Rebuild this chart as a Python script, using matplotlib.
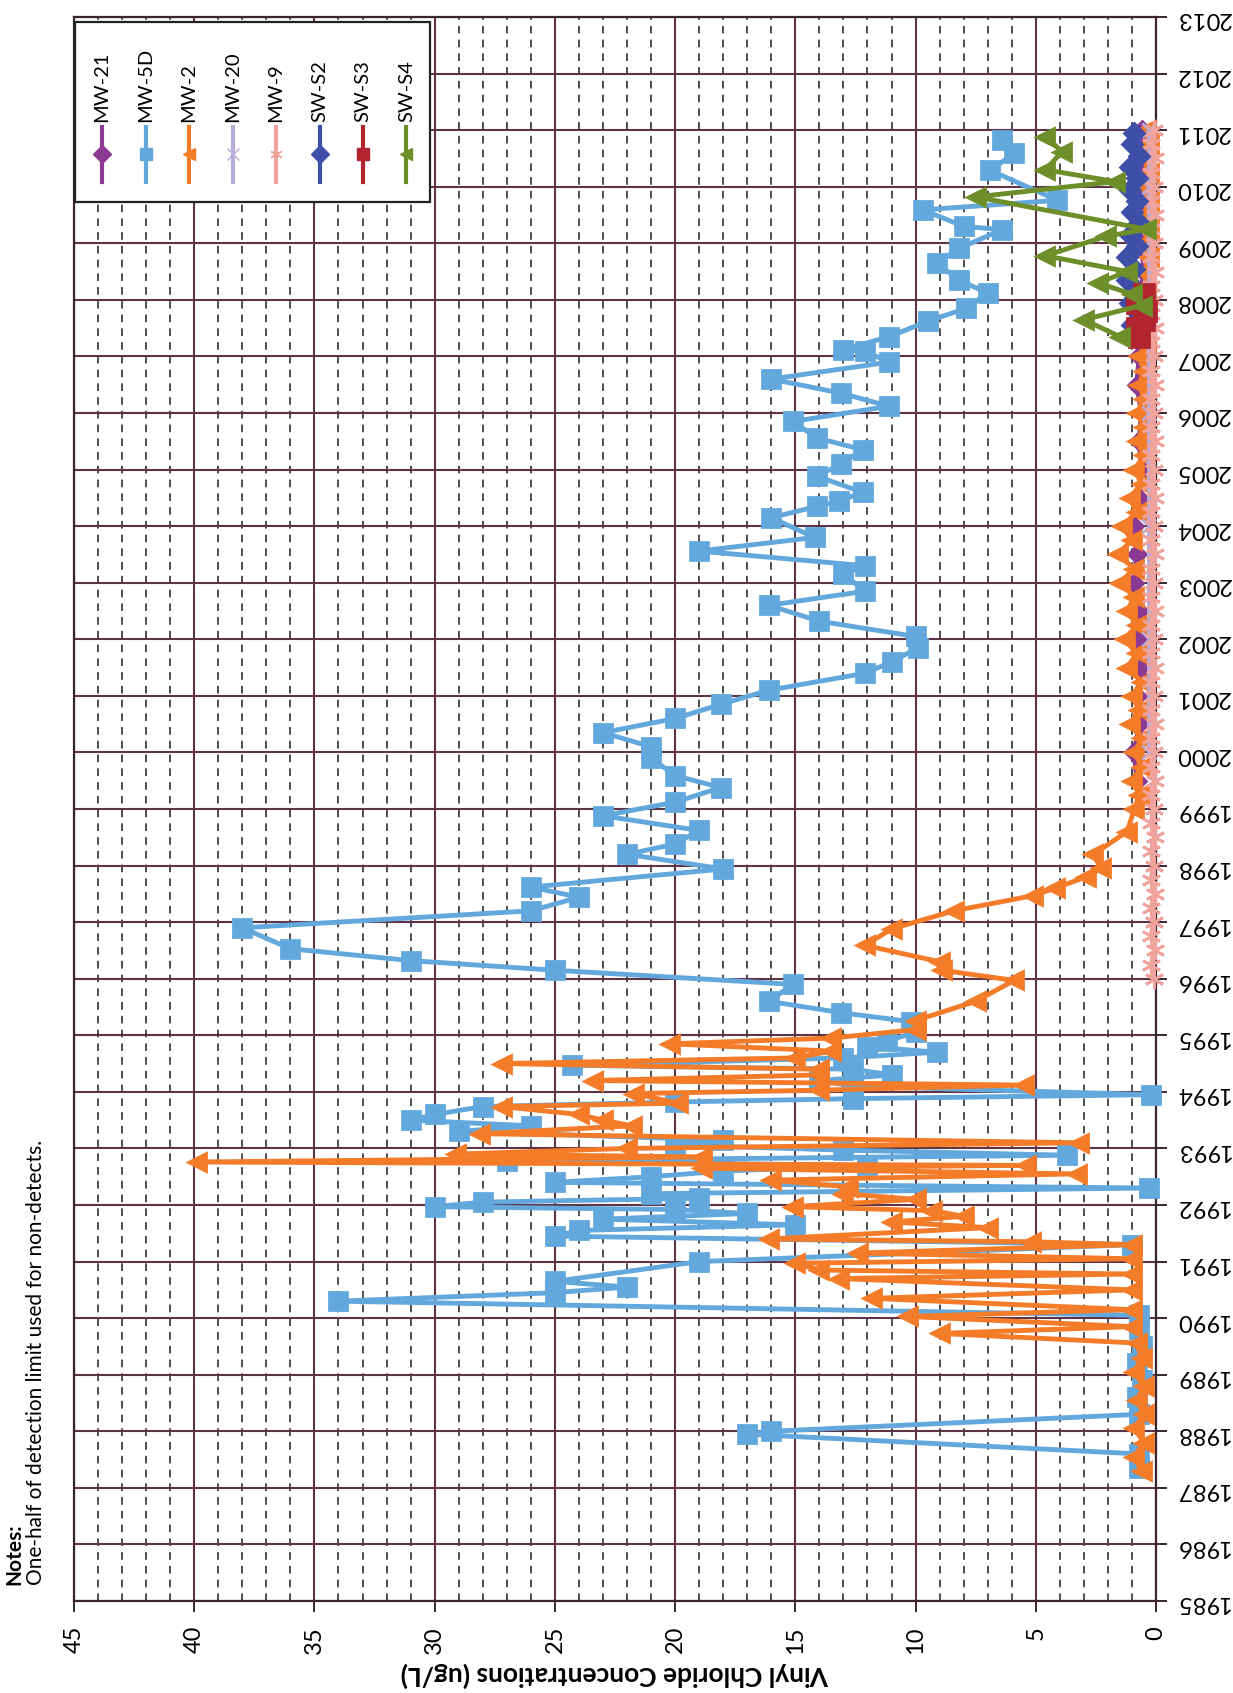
import matplotlib
matplotlib.use("Agg")
import matplotlib.pyplot as plt
from matplotlib.ticker import MultipleLocator, FixedLocator
from matplotlib.patches import Rectangle

plt.rcParams['font.family'] = ['Lato', 'DejaVu Sans']

# ---- data: (decimal year, vinyl chloride ug/L) ----
mw21 = [(1999.5, 0.8), (2000.0, 0.9), (2000.5, 0.7), (2001.0, 0.8), (2001.5, 0.6),
        (2002.0, 0.8), (2002.5, 0.7), (2003.0, 0.9), (2003.5, 0.8), (2004.0, 0.9),
        (2004.5, 0.7), (2005.0, 0.6), (2005.5, 0.7), (2006.0, 0.6), (2006.5, 0.8),
        (2007.0, 0.7), (2007.5, 0.6), (2008.0, 0.7), (2008.5, 0.5), (2009.0, 0.6),
        (2009.5, 0.5), (2010.0, 0.6), (2010.5, 0.5), (2011.0, 0.6)]

mw5d = [(1987.35, 0.7), (1987.6, 0.7), (1987.95, 17.0), (1988.0, 16.0), (1988.3, 0.7),
        (1988.6, 0.8), (1988.9, 0.6), (1989.2, 0.8), (1989.5, 0.6), (1989.8, 0.7),
        (1990.05, 0.7), (1990.3, 34.0), (1990.45, 25.0), (1990.55, 22.0), (1990.65, 25.0),
        (1991.0, 19.0), (1991.3, 1.0), (1991.45, 25.0), (1991.55, 24.0), (1991.65, 15.0),
        (1991.75, 23.0), (1991.85, 17.0), (1991.92, 20.0), (1991.97, 30.0), (1992.05, 28.0),
        (1992.12, 19.0), (1992.2, 21.0), (1992.3, 0.3), (1992.4, 25.0), (1992.5, 21.0),
        (1992.6, 18.0), (1992.7, 12.0), (1992.78, 27.0), (1992.88, 3.7), (1992.97, 13.0),
        (1993.06, 20.0), (1993.15, 18.0), (1993.3, 29.0), (1993.4, 26.0), (1993.5, 31.0),
        (1993.6, 30.0), (1993.74, 28.0), (1993.82, 20.0), (1993.88, 12.6), (1993.95, 0.2),
        (1994.1, 12.6), (1994.2, 14.0), (1994.3, 11.0), (1994.4, 12.6), (1994.47, 24.3),
        (1994.6, 13.0), (1994.7, 9.1), (1994.8, 12.0), (1994.9, 11.2), (1995.05, 10.0),
        (1995.24, 10.2), (1995.4, 13.1), (1995.6, 16.1), (1995.9, 15.1), (1996.15, 25.0),
        (1996.32, 31.0), (1996.53, 36.0), (1996.9, 38.0), (1997.2, 26.0), (1997.44, 24.0),
        (1997.62, 26.0), (1997.94, 18.0), (1998.2, 22.0), (1998.38, 20.0), (1998.62, 19.0),
        (1998.88, 23.0), (1999.12, 20.0), (1999.38, 18.1), (1999.59, 20.0), (1999.9, 21.0),
        (2000.1, 21.0), (2000.35, 23.0), (2000.6, 20.0), (2000.85, 18.1), (2001.1, 16.1),
        (2001.4, 12.1), (2001.6, 11.0), (2001.85, 9.9), (2002.05, 10.0), (2002.32, 14.0),
        (2002.6, 16.1), (2002.85, 12.1), (2003.15, 13.0), (2003.3, 12.1), (2003.56, 19.0),
        (2003.8, 14.2), (2004.15, 16.0), (2004.35, 14.1), (2004.44, 13.2), (2004.6, 12.2),
        (2004.88, 14.1), (2005.1, 13.1), (2005.35, 12.2), (2005.56, 14.1), (2005.85, 15.1),
        (2006.12, 11.1), (2006.35, 13.1), (2006.6, 16.0), (2006.9, 11.1), (2007.09, 12.1),
        (2007.12, 13.0), (2007.35, 11.1), (2007.62, 9.5), (2007.85, 7.9), (2008.12, 7.0),
        (2008.35, 8.2), (2008.65, 9.1), (2008.91, 8.2), (2009.24, 6.4), (2009.3, 8.0),
        (2009.59, 9.7), (2009.76, 4.1), (2010.29, 6.9), (2010.59, 5.9), (2010.82, 6.4)]

mw2 = [(1987.3, 0.6), (1987.55, 0.9), (1987.8, 0.5), (1988.05, 0.9), (1988.3, 0.5),
       (1988.55, 0.8), (1988.8, 0.5), (1989.05, 0.9), (1989.3, 0.6), (1989.56, 0.8),
       (1989.73, 9.0), (1989.85, 1.0), (1990.03, 10.3), (1990.15, 1.0), (1990.35, 11.8),
       (1990.5, 1.0), (1990.7, 13.2), (1990.78, 1.0), (1990.85, 14.0), (1990.97, 15.0),
       (1991.05, 1.0), (1991.15, 12.4), (1991.3, 1.0), (1991.35, 5.2), (1991.4, 16.1),
       (1991.6, 7.0), (1991.7, 11.0), (1991.8, 8.0), (1991.9, 9.3), (1991.97, 15.1),
       (1992.1, 10.0), (1992.2, 13.0), (1992.32, 12.8), (1992.44, 16.0), (1992.55, 3.3),
       (1992.65, 18.9), (1992.7, 5.4), (1992.76, 39.9), (1992.85, 18.9), (1992.9, 29.1),
       (1993.0, 22.0), (1993.1, 3.2), (1993.26, 28.1), (1993.4, 21.8), (1993.5, 23.0),
       (1993.6, 24.0), (1993.74, 27.2), (1993.8, 19.9), (1993.97, 21.7), (1994.03, 14.0),
       (1994.12, 5.5), (1994.2, 23.4), (1994.3, 14.0), (1994.4, 14.0), (1994.5, 27.2),
       (1994.6, 15.0), (1994.72, 13.5), (1994.85, 20.2), (1994.95, 13.5), (1995.1, 10.0),
       (1995.26, 10.0), (1995.6, 7.5), (1995.97, 5.9), (1996.15, 8.9), (1996.3, 9.0),
       (1996.59, 12.1), (1996.88, 11.0), (1997.2, 8.4), (1997.47, 5.1), (1997.6, 4.2),
       (1997.8, 2.9), (1997.95, 2.3), (1998.2, 2.6), (1998.6, 1.2), (1999.0, 0.9),
       (1999.25, 0.7), (1999.5, 1.0), (1999.75, 0.6), (2000.0, 0.9), (2000.25, 0.6),
       (2000.5, 1.1), (2000.75, 0.7), (2001.0, 1.0), (2001.25, 0.6), (2001.5, 1.2),
       (2001.75, 0.8), (2002.0, 1.3), (2002.25, 0.8), (2002.5, 1.2), (2002.75, 0.9),
       (2003.0, 1.5), (2003.25, 0.9), (2003.5, 1.6), (2003.75, 1.0), (2004.0, 1.4),
       (2004.25, 0.8), (2004.5, 1.1), (2004.75, 0.6), (2005.0, 0.9), (2005.25, 0.5),
       (2005.5, 0.8), (2005.75, 0.5), (2006.0, 0.8), (2006.25, 0.5), (2006.5, 0.7),
       (2006.75, 0.5), (2007.0, 0.7), (2007.25, 0.4), (2007.5, 0.6), (2007.75, 0.4),
       (2008.0, 0.5), (2008.25, 0.4), (2008.5, 0.5), (2008.75, 0.3), (2009.0, 0.5),
       (2009.25, 0.3), (2009.5, 0.5), (2009.75, 0.3), (2010.0, 0.5), (2010.25, 0.3),
       (2010.5, 0.5), (2010.75, 0.3), (2011.0, 0.4)]

mw20 = [(2000.0, 0.3), (2002.0, 0.3), (2004.0, 0.3), (2006.0, 0.3), (2008.0, 0.3),
        (2010.0, 0.3), (2011.0, 0.3)]

mw9 = [(1996.0, 0.1), (1996.25, 0.2), (1996.5, 0.05), (1996.75, 0.2), (1997.0, 0.1),
       (1997.25, 0.2), (1997.5, 0.05), (1997.75, 0.2), (1998.0, 0.1), (1998.25, 0.2),
       (1998.5, 0.05), (1998.75, 0.2), (1999.0, 0.1), (1999.25, 0.2), (1999.5, 0.05),
       (1999.75, 0.2), (2000.0, 0.1), (2000.25, 0.2), (2000.5, 0.05), (2000.75, 0.2),
       (2001.0, 0.1), (2001.25, 0.2), (2001.5, 0.05), (2001.75, 0.2), (2002.0, 0.1),
       (2002.25, 0.2), (2002.5, 0.05), (2002.75, 0.2), (2003.0, 0.1), (2003.25, 0.2),
       (2003.5, 0.05), (2003.75, 0.2), (2004.0, 0.1), (2004.25, 0.2), (2004.5, 0.05),
       (2004.75, 0.2), (2005.0, 0.1), (2005.25, 0.2), (2005.5, 0.05), (2005.75, 0.2),
       (2006.0, 0.1), (2006.25, 0.2), (2006.5, 0.05), (2006.75, 0.2), (2007.0, 0.1),
       (2007.25, 0.2), (2007.5, 0.05), (2007.75, 0.2), (2008.0, 0.1), (2008.25, 0.2),
       (2008.5, 0.05), (2008.75, 0.2), (2009.0, 0.1), (2009.25, 0.2), (2009.5, 0.05),
       (2009.75, 0.2), (2010.0, 0.1), (2010.25, 0.2), (2010.5, 0.05), (2010.75, 0.2),
       (2011.0, 0.1)]

sws2 = [(2007.35, 0.8), (2007.55, 1.0), (2007.75, 0.7), (2007.95, 1.1), (2008.15, 0.8),
        (2008.35, 1.2), (2008.55, 0.9), (2008.75, 1.2), (2008.95, 0.8), (2009.15, 1.1),
        (2009.35, 0.7), (2009.55, 1.0), (2009.75, 0.8), (2009.95, 1.1), (2010.15, 0.8),
        (2010.35, 1.1), (2010.55, 0.7), (2010.75, 1.0), (2010.95, 0.9)]

sws3 = [(2007.35, 0.7), (2007.5, 0.8), (2007.65, 0.5), (2007.8, 0.4), (2007.95, 0.8),
        (2008.1, 0.5)]

sws4 = [(2007.35, 1.5), (2007.65, 3.0), (2007.9, 0.6), (2008.1, 1.0), (2008.3, 2.4),
        (2008.5, 1.2), (2008.78, 4.6), (2009.12, 2.1), (2009.25, 0.4), (2009.82, 7.5),
        (2010.09, 1.7), (2010.3, 4.6), (2010.62, 3.9), (2010.88, 4.6)]

labels = ["MW-21", "MW-5D", "MW-2", "MW-20", "MW-9", "SW-S2", "SW-S3", "SW-S4"]
data = [mw21, mw5d, mw2, mw20, mw9, sws2, sws3, sws4]
colors = ["#8B3A93", "#62A8DD", "#F47B28", "#B9ACDA", "#EFA39C", "#3F4FA8", "#B22430", "#6E8E2A"]
markers = ["D", "s", "<", "x", (6, 2, 0), "D", "s", "<"]
msizes = [9, 13, 13, 10, 14, 10, 14, 13]

year_ticks = list(range(1985, 2014))
conc_ticks = [0, 5, 10, 15, 20, 25, 30, 35, 40, 45]

fig = plt.figure(figsize=(12.33, 16.93), dpi=100)
ax = fig.add_axes([74 / 1233, 92 / 1693, 1082 / 1233, 1584 / 1693])

# chart was scanned rotated: concentration runs right-to-left, years run upward
for lab, d, c, m, ms in zip(labels, data, colors, markers, msizes):
    yrs = [p[0] for p in d]
    conc = [p[1] for p in d]
    ax.plot(conc, yrs, color=c, lw=3.5, marker=m, ms=ms, mfc=c, mec=c, mew=2,
            clip_on=False, zorder=3)

ax.set_xlim(45, 0)
ax.set_ylim(1985, 2013)
ax.set_xticks(conc_ticks)
ax.xaxis.set_minor_locator(MultipleLocator(1))
ax.yaxis.set_major_locator(FixedLocator(year_ticks))
ax.set_yticklabels([str(y) for y in year_ticks])

ax.grid(which='major', axis='both', color='#5E3345', lw=1.5, zorder=0)
ax.grid(which='minor', axis='x', color='#1E1E1E', lw=1.1, ls=(0, (5, 4)), zorder=0)
ax.set_axisbelow(True)
for s in ax.spines.values():
    s.set_color('#3A2630')
    s.set_linewidth(1.6)

ax.yaxis.tick_right()
ax.tick_params(axis='y', labelrotation=180, labelsize=17, length=8, width=1.4,
               color='#3A2630', pad=6)
ax.tick_params(axis='x', which='major', labelrotation=90, labelsize=17, length=8,
               width=1.4, color='#3A2630', pad=10)
ax.tick_params(axis='x', which='minor', length=0)

ax.set_xlabel("Vinyl Chloride Concentrations (ug/L)", rotation=180, fontsize=19,
              fontweight='bold', labelpad=6)

# legend, drawn rotated like the scan
ax.add_patch(Rectangle((0.001, 0.883), 0.328, 0.114, transform=ax.transAxes,
                       fc='white', ec='#222222', lw=1.6, zorder=10, clip_on=False))
for i, (lab, c, m) in enumerate(zip(labels, colors, markers)):
    x = 0.0259 + i * 0.0402
    ax.plot([x, x, x], [0.8958, 0.9135, 0.9306], transform=ax.transAxes, color=c,
            lw=3, marker=m, ms=9, mfc=c, mec=c, markevery=[1], zorder=11, clip_on=False)
    ax.text(x, 0.9337, lab, transform=ax.transAxes, rotation=90, ha='center',
            va='bottom', fontsize=14.5, zorder=12)

fig.text(4 / 1233, 108 / 1693, "Notes:", rotation=90, ha='left', va='bottom',
         fontsize=15, fontweight='bold')
fig.text(26 / 1233, 108 / 1693, "One-half of detection limit used for non-detects.",
         rotation=90, ha='left', va='bottom', fontsize=15)

fig.savefig("out.png", dpi=100, facecolor='white')
